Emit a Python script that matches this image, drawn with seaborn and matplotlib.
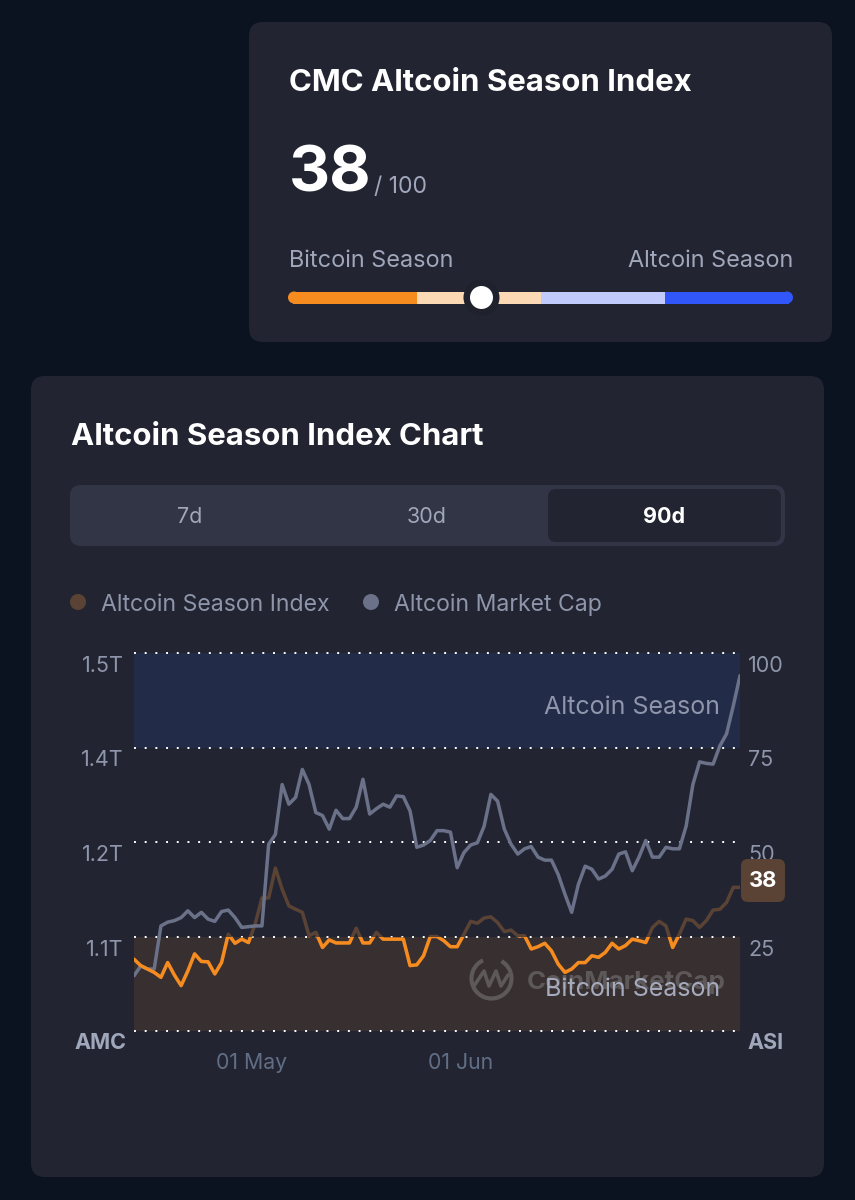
import matplotlib
matplotlib.use("Agg")
import matplotlib.pyplot as plt
from matplotlib.patches import FancyBboxPatch, Rectangle, Circle, Arc
import pandas as pd
import seaborn as sns

# values, one per day
asi_values = [19.0, 17.3, 16.4, 15.5, 14.2, 18.1, 14.8, 12.0, 15.9, 20.4, 18.4, 18.3, 15.1, 18.1, 25.6, 23.2,
              24.3, 23.4, 28.3, 35.2, 35.2, 43.1, 37.5, 33.1, 32.2, 31.4, 25.2, 26.1, 22.1, 24.1, 23.3, 23.3,
              23.3, 27.2, 23.3, 23.3, 26.1, 24.3, 24.3, 24.3, 24.3, 17.3, 17.5, 19.9, 25.0, 25.0, 23.9, 22.3,
              22.3, 25.6, 29.0, 28.5, 29.9, 30.2, 28.7, 26.3, 26.7, 25.2, 25.2, 21.7, 22.3, 23.2, 21.2, 17.7,
              15.5, 16.4, 18.1, 18.1, 19.9, 19.5, 20.8, 23.2, 21.7, 22.6, 24.3, 23.9, 23.4, 27.4, 29.0, 27.8,
              22.1, 25.6, 29.6, 29.2, 27.4, 29.2, 32.0, 32.2, 34.0, 38.0, 38.0]
cap_values = [1.073, 1.086, 1.082, 1.082, 1.139, 1.144, 1.146, 1.150, 1.159, 1.150, 1.157, 1.148, 1.145, 1.158,
              1.160, 1.150, 1.137, 1.138, 1.139, 1.139, 1.247, 1.260, 1.326, 1.300, 1.309, 1.346, 1.326, 1.289,
              1.285, 1.267, 1.292, 1.281, 1.281, 1.296, 1.333, 1.287, 1.294, 1.300, 1.296, 1.311, 1.310, 1.291,
              1.243, 1.246, 1.252, 1.265, 1.265, 1.263, 1.216, 1.236, 1.246, 1.249, 1.271, 1.313, 1.304, 1.267,
              1.247, 1.234, 1.241, 1.244, 1.230, 1.226, 1.226, 1.207, 1.181, 1.157, 1.194, 1.218, 1.214, 1.201,
              1.205, 1.214, 1.234, 1.237, 1.212, 1.230, 1.252, 1.230, 1.230, 1.243, 1.241, 1.241, 1.271, 1.326,
              1.356, 1.354, 1.353, 1.377, 1.393, 1.430, 1.470]
asi_ticks = [25, 50, 75, 100]
asi_labels = ["25", "50", "75", "100"]
cap_ticks = [1.125, 1.25, 1.375, 1.5]
cap_labels = ["1.1T", "1.2T", "1.4T", "1.5T"]
month_ticks = ["2025-05-01", "2025-06-01"]
month_labels = ["01 May", "01 Jun"]
gauge_edges = [0, 25, 50, 75, 100]
gauge_colors = ["#f68c1f", "#fbd9b5", "#c1ccfd", "#3156fa"]
current_index = 38

BG = "#0b1220"
CARD = "#222531"
TAB = "#323546"
MUTED = "#a1a7bb"
AXIS_TXT = "#8f96ab"
DIM = "#5a4334"
GRAY = "#6a7188"
ORANGE = "#f68c1f"

sns.set_theme(style="dark")
plt.rcParams["font.family"] = ["Inter", "DejaVu Sans"]

df = pd.DataFrame({"date": pd.date_range("2025-04-13 12:00", periods=len(asi_values), freq="D"),
                   "asi": asi_values, "cap": cap_values})

W, H = 855, 1200
fig = plt.figure(figsize=(W / 100, H / 100), dpi=100, facecolor=BG)

# page furniture in pixel coordinates
page = fig.add_axes([0, 0, 1, 1])
page.set_xlim(0, W)
page.set_ylim(H, 0)
page.axis("off")


def card(x0, y0, x1, y1, r, color, ax=page, z=1):
    ax.add_patch(FancyBboxPatch((x0 + r, y0 + r), x1 - x0 - 2 * r, y1 - y0 - 2 * r,
                                boxstyle=f"round,pad={r},rounding_size={r}",
                                fc=color, ec="none", zorder=z))


def label(x, y, s, size, color=MUTED, weight="normal", ha="left"):
    page.text(x, y, s, fontsize=size, color=color, fontweight=weight, ha=ha, va="center", zorder=5)


card(249, 22, 832, 342, 14, CARD)
card(31, 376, 824, 1177, 14, CARD)

label(289, 83, "CMC Altcoin Season Index", 22.4, "white", "bold")
label(289, 175, "38", 46, "white", "bold")
label(374, 187, "/ 100", 16.5, MUTED)
label(289, 261, "Bitcoin Season", 16.9, MUTED)
label(793, 261, "Altcoin Season", 16.9, MUTED, ha="right")

# gauge: four equal segments between the two rounded ends
gauge_x0, gauge_x1 = 293, 789
to_x = lambda v: gauge_x0 + (gauge_x1 - gauge_x0) * v / 100
for i, col in enumerate(gauge_colors):
    page.add_patch(Rectangle((to_x(gauge_edges[i]), 291.5), to_x(gauge_edges[i + 1]) - to_x(gauge_edges[i]), 12,
                             fc=col, ec="none", zorder=2))
page.add_patch(Circle((gauge_x0 + 1, 297.5), 6, fc=gauge_colors[0], ec="none", zorder=2))
page.add_patch(Circle((gauge_x1 - 2, 297.5), 6, fc=gauge_colors[-1], ec="none", zorder=2))
page.add_patch(Rectangle((gauge_x1 - 2, 291.5), 0.1, 12, fc=gauge_colors[-1], ec="none", zorder=2))
page.add_patch(Circle((to_x(current_index), 297.5), 18, fc="#1f222d", ec="none", zorder=4))
page.add_patch(Circle((to_x(current_index), 297.5), 11.5, fc="white", ec="none", zorder=5))

label(71, 437, "Altcoin Season Index Chart", 22.4, "white", "bold")

# range tabs
card(70, 485, 785, 546, 11, TAB)
card(548, 489, 781, 542, 8, CARD, z=2)
label(190, 517, "7d", 15.5, MUTED, ha="center")
label(427, 517, "30d", 15.5, MUTED, ha="center")
label(664, 517, "90d", 15.5, "white", "bold", ha="center")

# legend
page.add_patch(Circle((78, 602), 8, fc=DIM, ec="none", zorder=3))
page.add_patch(Circle((371, 602), 8, fc=GRAY, ec="none", zorder=3))
label(101, 605, "Altcoin Season Index", 16.6, AXIS_TXT)
label(394, 605, "Altcoin Market Cap", 16.6, AXIS_TXT)

# chart axes sit on the plot rectangle of the reference
left, right, top, bottom = 134, 740, 653, 1031
rect = [left / W, 1 - bottom / H, (right - left) / W, (bottom - top) / H]
ax = fig.add_axes(rect, facecolor="none")
ax.set_ylim(0, 100)
ax.set_xlim(df["date"].iloc[0], df["date"].iloc[-1])
ax.axhspan(0, 25, fc="#382f30", ec="none", zorder=0)
ax.axhspan(75, 100, fc="#222b47", ec="none", zorder=0)

# watermark
mark = "#5d5859"
ax.add_patch(Arc((491.5, 978.5), 40, 40, theta1=-60, theta2=245, ec=mark, lw=3, transform=page.transData, zorder=1))
ax.plot([474, 484, 489, 496, 501, 508], [986, 971, 986, 971, 986, 975], color=mark, lw=2.6,
        transform=page.transData, zorder=1, solid_joinstyle="round")
ax.text(527, 982, "CoinMarketCap", fontsize=18.7, fontweight="bold", color=mark, va="center", ha="left",
        transform=page.transData, zorder=1)

for v in [0, 25, 50, 75, 100]:
    ax.axhline(v, color="white", lw=1.4, ls=(0, (1, 4.5)), zorder=1, clip_on=False, xmax=0.992)

ax.text(720, 707, "Altcoin Season", fontsize=18, color=AXIS_TXT, va="center", ha="right",
        transform=page.transData, zorder=6)
ax.text(720, 990, "Bitcoin Season", fontsize=18, color="#a5abbd", va="center", ha="right",
        transform=page.transData, zorder=6)

# dim index line underneath, market cap over it, bright index part on top
sns.lineplot(data=df, x="date", y="asi", ax=ax, color=DIM, lw=2.5, zorder=2)
ax.lines[-1].set_solid_joinstyle("round")

cap_ax = ax.twinx()
cap_ax.set_facecolor("none")
cap_ax.set_ylim(1.0, 1.5)
sns.lineplot(data=df, x="date", y="cap", ax=cap_ax, color=GRAY, lw=2.5)
cap_ax.lines[-1].set_solid_joinstyle("round")

top_ax = ax.twinx()
top_ax.set_facecolor("none")
top_ax.set_ylim(0, 100)
sns.lineplot(data=df, x="date", y="asi", ax=top_ax, color=ORANGE, lw=2.5)
bright = top_ax.lines[-1]
bright.set_solid_joinstyle("round")
bright.set_clip_path(Rectangle((0, 0), 1, 0.25, transform=top_ax.transAxes))

# ticks: labels hang below their gridline like in the reference
shift = matplotlib.transforms.ScaledTranslation(0, -11 / 100, fig.dpi_scale_trans)
ax.set_yticks(asi_ticks)
ax.set_yticklabels(asi_labels)
ax.yaxis.tick_right()
ax.tick_params(axis="y", length=0, pad=6, labelsize=15.5, labelcolor=AXIS_TXT)
cap_ax.set_yticks(cap_ticks)
cap_ax.set_yticklabels(cap_labels)
cap_ax.yaxis.tick_left()
cap_ax.tick_params(axis="y", length=0, pad=7.5, labelsize=15.5, labelcolor=AXIS_TXT)
for t in ax.get_yticklabels() + cap_ax.get_yticklabels():
    t.set_transform(t.get_transform() + shift)
top_ax.set_yticks([])

ax.set_xticks(pd.to_datetime(month_ticks))
ax.set_xticklabels(month_labels)
ax.tick_params(axis="x", length=0, pad=16, labelsize=15.3, labelcolor="#616e85")
cap_ax.tick_params(axis="x", length=0)

for a in (ax, cap_ax, top_ax):
    a.set_xlabel("")
    a.set_ylabel("")
    a.grid(False)
    for s in a.spines.values():
        s.set_visible(False)
ax.set_xlim(df["date"].iloc[0], df["date"].iloc[-1])
cap_ax.set_xlim(ax.get_xlim())
top_ax.set_xlim(ax.get_xlim())

label(100.5, 1043, "AMC", 15.5, MUTED, "bold", ha="center")
label(766, 1043, "ASI", 15.5, MUTED, "bold", ha="center")

# current value badge
top_page = fig.add_axes([0, 0, 1, 1], facecolor="none")
top_page.set_xlim(0, W)
top_page.set_ylim(H, 0)
top_page.axis("off")
card(741, 859, 785, 902, 7, DIM, ax=top_page, z=3)
top_page.text(763, 881, str(current_index), fontsize=15.8, fontweight="bold", color="white",
              ha="center", va="center", zorder=5)

fig.savefig("out.png", dpi=100, facecolor=BG)
